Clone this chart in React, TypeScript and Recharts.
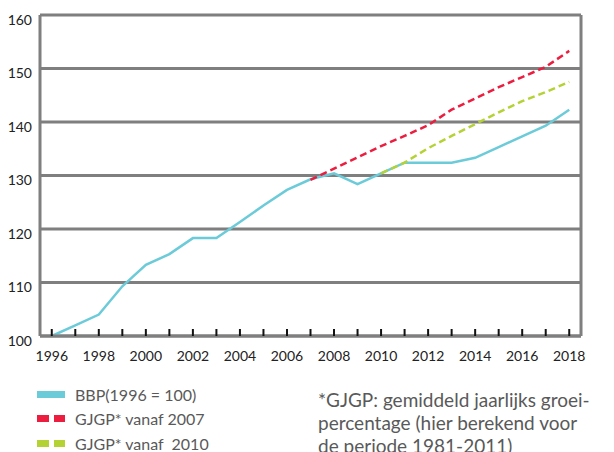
import React from "react";
import { LineChart, Line, XAxis, YAxis, CartesianGrid } from "recharts";

// jaren en reeksen
const years = [
  1996, 1997, 1998, 1999, 2000, 2001, 2002, 2003, 2004, 2005, 2006, 2007,
  2008, 2009, 2010, 2011, 2012, 2013, 2014, 2015, 2016, 2017, 2018,
];
const bbp = [
  100, 102, 104, 109.3, 113.3, 115.3, 118.3, 118.3, 121.3, 124.4, 127.3, 129.3,
  130.4, 128.4, 130.4, 132.4, 132.4, 132.4, 133.3, 135.3, 137.3, 139.3, 142.3,
];
const gjgp2007 = [
  null, null, null, null, null, null, null, null, null, null, null, 129.2,
  131.3, 133.4, 135.5, 137.4, 139.4, 142.3, 144.4, 146.5, 148.4, 150.3, 153.3,
];
const gjgp2010 = [
  null, null, null, null, null, null, null, null, null, null, null, null,
  null, null, 130.4, 132.4, 135.1, 137.4, 139.6, 141.8, 143.9, 145.6, 147.5,
];
const yTicks = [100, 110, 120, 130, 140, 150, 160];

const data = years.map((year, i) => ({
  year,
  bbp: bbp[i],
  g2007: gjgp2007[i],
  g2010: gjgp2010[i],
}));

const FONT = "Lato, 'Open Sans', sans-serif";
const GRID = "#7f7f7f";
const BLUE = "#6ccbd9";
const RED = "#ec1d3f";
const GREEN = "#b4d234";

const YearTick = (props: any) => {
  const { x, y, payload } = props;
  const v = payload.value as number;
  return (
    <g>
      <line x1={x} x2={x} y1={y - 7} y2={y} stroke="#111" strokeWidth={2} />
      {v % 2 === 0 && (
        <text x={x} y={y + 25} textAnchor="middle" fontSize={14} fill="#222" fontFamily={FONT}>
          {v}
        </text>
      )}
    </g>
  );
};

const legendRows = [
  { label: "BBP(1996 = 100)", color: BLUE, dashed: false },
  { label: "GJGP* vanaf 2007", color: RED, dashed: true },
  { label: "GJGP* vanaf  2010", color: GREEN, dashed: true },
];

const Swatch: React.FC<{ color: string; dashed: boolean }> = ({ color, dashed }) =>
  dashed ? (
    <span style={{ display: "inline-flex", width: 28, justifyContent: "space-between" }}>
      <span style={{ width: 12, height: 7, background: color }} />
      <span style={{ width: 11, height: 7, background: color }} />
    </span>
  ) : (
    <span style={{ display: "inline-block", width: 28, height: 7, background: color }} />
  );

export default function App() {
  return (
    <div style={{ position: "absolute", left: 0, top: 0, width: 614, height: 452, overflow: "hidden", background: "#fff", fontFamily: FONT }}>
      <LineChart width={614} height={370} data={data} margin={{ top: 15, right: 0, left: 0, bottom: 0 }}>
        <CartesianGrid yAxisId="left" vertical={false} stroke={GRID} strokeWidth={3} />
        <XAxis
          dataKey="year"
          type="number"
          domain={[1995.5, 2018.5]}
          ticks={years}
          interval={0}
          height={34}
          tickSize={0}
          tickMargin={0}
          tickLine={false}
          axisLine={{ stroke: GRID, strokeWidth: 3 }}
          tick={<YearTick />}
        />
        <YAxis
          yAxisId="left"
          width={40}
          domain={[100, 160]}
          ticks={yTicks}
          tickSize={0}
          tickMargin={8}
          tickLine={false}
          axisLine={{ stroke: GRID, strokeWidth: 3 }}
          tick={{ fontSize: 14, fill: "#222", fontFamily: FONT, dy: 5 }}
        />
        <YAxis
          yAxisId="right"
          orientation="right"
          width={33}
          domain={[100, 160]}
          ticks={yTicks}
          tickSize={0}
          tickMargin={8}
          tickLine={false}
          axisLine={{ stroke: GRID, strokeWidth: 3 }}
          tick={{ fontSize: 14, fill: "#222", fontFamily: FONT, dy: 5 }}
        />
        <Line yAxisId="left" dataKey="bbp" stroke={BLUE} strokeWidth={2.5} dot={false} isAnimationActive={false} />
        <Line yAxisId="left" dataKey="g2007" stroke={RED} strokeWidth={2.5} strokeDasharray="7 4" dot={false} isAnimationActive={false} />
        <Line yAxisId="left" dataKey="g2010" stroke={GREEN} strokeWidth={2.5} strokeDasharray="7 4" dot={false} isAnimationActive={false} />
      </LineChart>

      <div style={{ position: "absolute", left: 37, top: 382, color: "#595959", fontSize: 16 }}>
        {legendRows.map((r) => (
          <div key={r.label} style={{ display: "flex", alignItems: "center", height: 24.5, whiteSpace: "pre" }}>
            <Swatch color={r.color} dashed={r.dashed} />
            <span style={{ marginLeft: 10 }}>{r.label}</span>
          </div>
        ))}
      </div>

      <div style={{ position: "absolute", left: 318, top: 388, width: 300, color: "#595959", fontSize: 19, lineHeight: "23px", whiteSpace: "nowrap" }}>
        *GJGP: gemiddeld jaarlijks groei-
        <br />
        percentage (hier berekend voor
        <br />
        de periode 1981-2011)
      </div>
    </div>
  );
}
